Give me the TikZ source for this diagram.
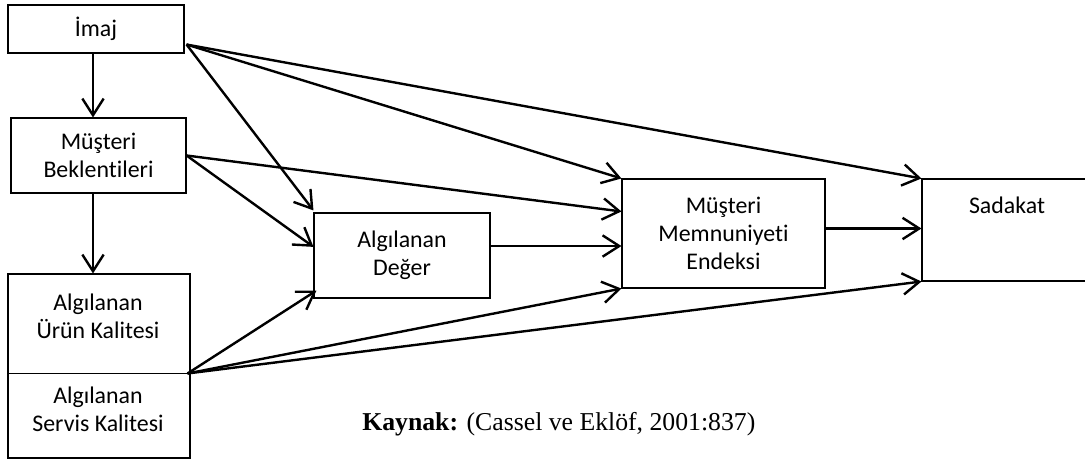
\documentclass[tikz,border=0pt]{standalone}
\usepackage{fontspec}
\setmainfont{Carlito}[Ligatures=NoCommon]
\newfontfamily\sourcefont{Liberation Serif}
\usetikzlibrary{arrows.meta,calc}

\begin{document}
\begin{tikzpicture}[x=0.75pt,y=-0.75pt,
  font=\fontsize{17.9}{21}\selectfont,
  box/.style={draw, line width=0.8pt, inner sep=0pt, align=center},
  label/.style={inner sep=0pt, align=center},
  link/.style={line width=1.8pt, -{Straight Barb[length=12.5pt,width=16pt,line width=1.8pt]}}]

\useasboundingbox (0,0) rectangle (1085,459);

% boxes
\node[box, minimum width=132pt, minimum height=36pt] (imaj) at (96,29) {İmaj};
\node[box, minimum width=131.25pt, minimum height=56.25pt] (mb) at (98.5,155.5) {Müşteri\\Beklentileri};
\node[box, minimum width=136.5pt, minimum height=138pt] (kalite) at (99,366) {};
\node[box, minimum width=132pt, minimum height=63.75pt] (ad) at (402,255.5) {Algılanan\\Değer};
\node[box, minimum width=152.25pt, minimum height=81.75pt] (mme) at (723.5,233.5) {Müşteri\\Memnuniyeti\\Endeksi};
\node[box, minimum width=127.5pt, minimum height=76.5pt] (sad) at (1007,230) {};

% texts placed towards the top of their boxes
\node[label] (auk) at (98,316) {Algılanan\\Ürün Kalitesi};
\node[label] (ask) at (98,409) {Algılanan\\Servis Kalitesi};
\node[label] (sadtext) at (1007,205) {Sadakat};

% divider between product and service quality
\coordinate (kalout) at ($(kalite.north east)+(-3,100)$);
\draw[line width=0.8pt] (kalite.west |- kalout) -- (kalout);

% outgoing points
\coordinate (imajout) at ($(imaj.south east)+(2,-9)$);
\coordinate (mbout) at (mb.east);
\coordinate (adout) at ($(ad.north east)!0.39!(ad.south east)$);
\coordinate (mmeout) at ($(mme.east)+(0,-5)$);

% vertical links
\draw[link] ($(imaj.south)+(-3,0)$) coordinate (v1) -- (v1 |- mb.north);
\draw[link] ($(mb.south)+(-5.5,0)$) coordinate (v2) -- (v2 |- kalite.north);

% from image
\draw[link] (imajout) -- ($(ad.north west)+(0,-2)$);
\draw[link] (imajout) -- (mme.north west);
\draw[link] (imajout) -- (sad.north west);

% from expectations
\draw[link] (mbout) -- ($(ad.north west)!0.4!(ad.south west)$);
\draw[link] (mbout) -- ($(mme.north west)!0.3!(mme.south west)$);

% from perceived value and satisfaction
\draw[link] (adout) -- (mme.west |- adout);
\draw[link] (mmeout) -- (sad.west |- mmeout);

% from quality
\draw[link] (kalout) -- ($(ad.south west)+(3,-8)$);
\draw[link] (kalout) -- (mme.south west);
\draw[link] (kalout) -- (sad.south west);

% source
\node[anchor=base west, inner sep=0pt, font=\sourcefont\fontsize{19.3}{23}\selectfont] (kaynak) at (362,431) {\textbf{Kaynak:} (Cassel ve Eklöf, 2001:837)};

\end{tikzpicture}
\end{document}
